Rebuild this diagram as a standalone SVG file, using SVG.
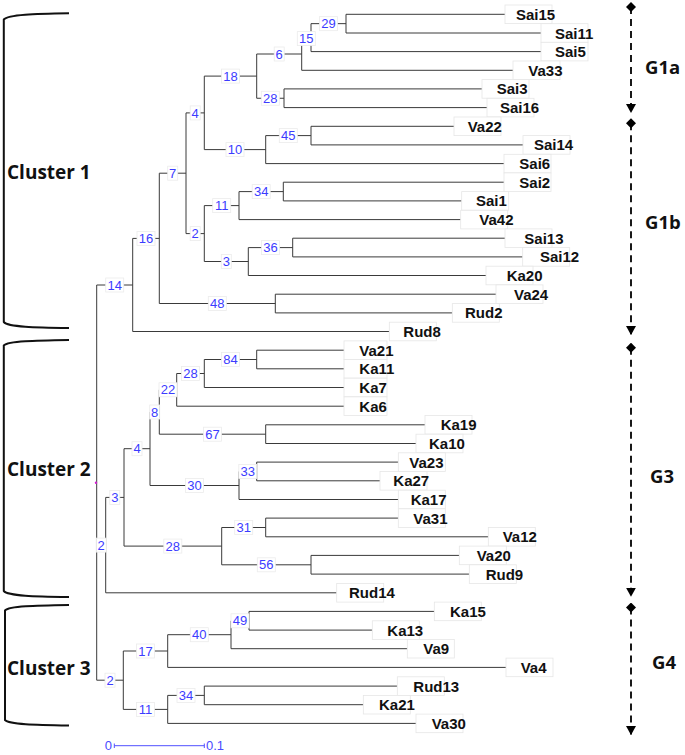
<svg xmlns="http://www.w3.org/2000/svg" width="685" height="755" viewBox="0 0 685 755">
<style>
.br{stroke:#3a3a3a;stroke-width:1;fill:none}
.nb{fill:#fff;stroke:#ececec;stroke-width:0.8}
.nt{font-family:"Liberation Sans",Arial,sans-serif;font-size:13px;fill:#3c3cff;text-anchor:middle}
.lb{fill:#fff;stroke:#e6e6e6;stroke-width:0.8}
.lt{font-family:"Liberation Sans",Arial,sans-serif;font-weight:700;font-size:15px;fill:#111}
.cl{font-family:"Open Sans","Liberation Sans",sans-serif;font-weight:700;font-size:19px;fill:#111}
.gl{font-family:"Open Sans","Liberation Sans",sans-serif;font-weight:700;font-size:18.5px;fill:#111}
.dash{stroke:#000;stroke-width:1.8;stroke-dasharray:7 5;fill:none}
.brk{stroke:#111;stroke-width:2;fill:none}
.sc{stroke:#5050ff;stroke-width:1;fill:none}
.st{font-family:"Liberation Sans",Arial,sans-serif;font-size:13px;fill:#4a4aff}
</style>
<defs>
<marker id="dia" markerUnits="userSpaceOnUse" markerWidth="10" markerHeight="10" refX="5" refY="5" orient="auto"><path d="M0,5 L5,0 L10,5 L5,10 Z" fill="#000"/></marker>
<marker id="arr" markerUnits="userSpaceOnUse" markerWidth="10" markerHeight="10" refX="9" refY="5" orient="auto"><path d="M0,0 L9,5 L0,10 Z" fill="#000"/></marker>
</defs>
<rect width="685" height="755" fill="#fff"/>

<g id="brackets">
<path class="brk" d="M69 13.3 C35 13.8 8 14.5 3.8 19.5 V322 C8 327 35 327.6 69 328"/>
<path class="brk" d="M69 340 C35 340.5 8 341 3.8 345.5 V591 C8 596 35 596.5 69 597"/>
<path class="brk" d="M69 605 C35 605.5 9 606 5 610.5 V720 C9 724.5 35 725 69 725.5"/>
<text class="cl" x="7" y="179">Cluster 1</text>
<text class="cl" x="7" y="476">Cluster 2</text>
<text class="cl" x="7" y="675">Cluster 3</text>
</g>

<g id="groups">
<path class="dash" d="M631 7 V113" marker-start="url(#dia)" marker-end="url(#arr)"/>
<path class="dash" d="M631 123.3 V335" marker-start="url(#dia)" marker-end="url(#arr)"/>
<path class="dash" d="M631 347.7 V596.7" marker-start="url(#dia)" marker-end="url(#arr)"/>
<path class="dash" d="M631 607.5 V735" marker-start="url(#dia)" marker-end="url(#arr)"/>
<text class="gl" x="645" y="74">G1a</text>
<text class="gl" x="645" y="229">G1b</text>
<text class="gl" x="650" y="482.7">G3</text>
<text class="gl" x="652" y="669.3">G4</text>
</g>

<g id="connectors">
<path class="br" d="M346 14.3 V33 M311 23.65 V51.6 M301.7 37.6 V70.3 M284 88.9 V107.6 M256.7 54 V98.25 M311 126.3 V144.9 M265.7 135.6 V163.6 M204.3 76.1 V149.6 M283.3 182.2 V200.9 M239 191.6 V219.6 M292.7 238.2 V256.9 M248.3 247.6 V275.5 M204.3 205.6 V261.5 M186 112.9 V233.6 M275.3 294.2 V312.9 M159.3 173.2 V303.5 M132.7 238.4 V331.5 M256.7 350.2 V368.8 M204.3 359.5 V387.5 M176.7 373.5 V406.2 M265.7 424.8 V443.5 M159.3 389.8 V434.2 M256.7 462.1 V480.8 M239 471.5 V499.5 M150 412 V485.5 M265.7 518.1 V536.8 M311 555.4 V574.1 M221.7 527.5 V564.8 M124 448.7 V546.1 M105.7 497.4 V592.8 M249 611.4 V630.1 M231 620.8 V648.7 M167.7 634.7 V667.4 M204.3 686.1 V704.7 M167.7 695.4 V723.4 M123.3 651 V709.4"/>
<path class="br" stroke="#7a7a7a" d="M96.7 285 V680.2"/>
<path class="br" d="M311 23.65 H346 M301.7 37.6 H311 M256.7 54 H301.7 M256.7 98.25 H284 M204.3 76.1 H256.7 M265.7 135.6 H311 M204.3 149.6 H265.7 M186 112.9 H204.3 M239 191.6 H283.3 M204.3 205.6 H239 M248.3 247.6 H292.7 M204.3 261.5 H248.3 M186 233.6 H204.3 M159.3 173.2 H186 M159.3 303.5 H275.3 M132.7 238.4 H159.3 M96.7 285 H132.7 M204.3 359.5 H256.7 M176.7 373.5 H204.3 M159.3 389.8 H176.7 M159.3 434.2 H265.7 M150 412 H159.3 M239 471.5 H256.7 M150 485.5 H239 M124 448.7 H150 M221.7 527.5 H265.7 M221.7 564.8 H311 M124 546.1 H221.7 M105.7 497.4 H124 M96.7 545.1 H105.7 M231 620.8 H249 M167.7 634.7 H231 M123.3 651 H167.7 M167.7 695.4 H204.3 M123.3 709.4 H167.7 M96.7 680.2 H123.3"/>
<path class="br" d="M346 14.3 H505 M346 33 H541 M311 51.6 H541 M301.7 70.3 H513 M284 88.9 H482 M284 107.6 H487 M311 126.3 H454 M311 144.9 H523 M265.7 163.6 H504 M283.3 182.2 H504 M283.3 200.9 H461.7 M239 219.6 H460.7 M292.7 238.2 H505 M292.7 256.9 H522.7 M248.3 275.5 H486 M275.3 294.2 H496 M275.3 312.9 H452.3 M132.7 331.5 H389.3 M256.7 350.2 H344 M256.7 368.8 H344 M204.3 387.5 H344 M176.7 406.2 H344 M265.7 424.8 H425 M265.7 443.5 H416 M256.7 462.1 H398.3 M256.7 480.8 H380 M239 499.5 H398.3 M265.7 518.1 H398.3 M265.7 536.8 H488.3 M311 555.4 H459.3 M311 574.1 H469.3 M105.7 592.8 H336.7 M249 611.4 H434.3 M249 630.1 H372.3 M231 648.7 H407.3 M167.7 667.4 H506 M204.3 686.1 H397.3 M204.3 704.7 H363.3 M167.7 723.4 H416"/>
<circle cx="96" cy="482.7" r="1.2" fill="#d020d0"/>
</g>

<g id="leaves">
<g id="Sai15"><rect class="lb" x="505" y="5" width="47" height="18.6"/><text class="lt" x="516" y="19.8">Sai15</text></g>
<g id="Sai11"><rect class="lb" x="541" y="23.7" width="47" height="18.6"/><text class="lt" x="555" y="38.5">Sai11</text></g>
<g id="Sai5"><rect class="lb" x="541" y="42.3" width="47" height="18.6"/><text class="lt" x="555" y="57.1">Sai5</text></g>
<g id="Va33"><rect class="lb" x="513" y="61" width="47" height="18.6"/><text class="lt" x="528.3" y="75.8">Va33</text></g>
<g id="Sai3"><rect class="lb" x="482" y="79.6" width="47" height="18.6"/><text class="lt" x="496.7" y="94.4">Sai3</text></g>
<g id="Sai16"><rect class="lb" x="487" y="98.3" width="47" height="18.6"/><text class="lt" x="500" y="113.1">Sai16</text></g>
<g id="Va22"><rect class="lb" x="454" y="117" width="47" height="18.6"/><text class="lt" x="467.7" y="131.8">Va22</text></g>
<g id="Sai14"><rect class="lb" x="523" y="135.6" width="47" height="18.6"/><text class="lt" x="534" y="150.4">Sai14</text></g>
<g id="Sai6"><rect class="lb" x="504" y="154.3" width="47" height="18.6"/><text class="lt" x="519.3" y="169.1">Sai6</text></g>
<g id="Sai2"><rect class="lb" x="504" y="172.9" width="47" height="18.6"/><text class="lt" x="519.3" y="187.7">Sai2</text></g>
<g id="Sai1"><rect class="lb" x="461.7" y="191.6" width="47" height="18.6"/><text class="lt" x="476" y="206.4">Sai1</text></g>
<g id="Va42"><rect class="lb" x="460.7" y="210.3" width="47" height="18.6"/><text class="lt" x="479.3" y="225.1">Va42</text></g>
<g id="Sai13"><rect class="lb" x="505" y="228.9" width="47" height="18.6"/><text class="lt" x="524.3" y="243.7">Sai13</text></g>
<g id="Sai12"><rect class="lb" x="522.7" y="247.6" width="47" height="18.6"/><text class="lt" x="540" y="262.4">Sai12</text></g>
<g id="Ka20"><rect class="lb" x="486" y="266.2" width="47" height="18.6"/><text class="lt" x="506.7" y="281">Ka20</text></g>
<g id="Va24"><rect class="lb" x="496" y="284.9" width="47" height="18.6"/><text class="lt" x="514" y="299.7">Va24</text></g>
<g id="Rud2"><rect class="lb" x="452.3" y="303.6" width="47" height="18.6"/><text class="lt" x="465" y="318.4">Rud2</text></g>
<g id="Rud8"><rect class="lb" x="389.3" y="322.2" width="47" height="18.6"/><text class="lt" x="403.3" y="337">Rud8</text></g>
<g id="Va21"><rect class="lb" x="344" y="340.9" width="43" height="18.6"/><text class="lt" x="359.3" y="355.7">Va21</text></g>
<g id="Ka11"><rect class="lb" x="344" y="359.5" width="43" height="18.6"/><text class="lt" x="359.3" y="374.3">Ka11</text></g>
<g id="Ka7"><rect class="lb" x="344" y="378.2" width="43" height="18.6"/><text class="lt" x="359.3" y="393">Ka7</text></g>
<g id="Ka6"><rect class="lb" x="344" y="396.9" width="43" height="18.6"/><text class="lt" x="359.3" y="411.7">Ka6</text></g>
<g id="Ka19"><rect class="lb" x="425" y="415.5" width="47" height="18.6"/><text class="lt" x="440.7" y="430.3">Ka19</text></g>
<g id="Ka10"><rect class="lb" x="416" y="434.2" width="47" height="18.6"/><text class="lt" x="429" y="449">Ka10</text></g>
<g id="Va23"><rect class="lb" x="398.3" y="452.8" width="47" height="18.6"/><text class="lt" x="409.3" y="467.6">Va23</text></g>
<g id="Ka27"><rect class="lb" x="380" y="471.5" width="47" height="18.6"/><text class="lt" x="393.3" y="486.3">Ka27</text></g>
<g id="Ka17"><rect class="lb" x="398.3" y="490.2" width="47" height="18.6"/><text class="lt" x="410.7" y="505">Ka17</text></g>
<g id="Va31"><rect class="lb" x="398.3" y="508.8" width="47" height="18.6"/><text class="lt" x="413.3" y="523.6">Va31</text></g>
<g id="Va12"><rect class="lb" x="488.3" y="527.5" width="47" height="18.6"/><text class="lt" x="502.7" y="542.3">Va12</text></g>
<g id="Va20"><rect class="lb" x="459.3" y="546.1" width="47" height="18.6"/><text class="lt" x="476.7" y="560.9">Va20</text></g>
<g id="Rud9"><rect class="lb" x="469.3" y="564.8" width="47" height="18.6"/><text class="lt" x="485.7" y="579.6">Rud9</text></g>
<g id="Rud14"><rect class="lb" x="336.7" y="583.5" width="47" height="18.6"/><text class="lt" x="349" y="598.3">Rud14</text></g>
<g id="Ka15"><rect class="lb" x="434.3" y="602.1" width="47" height="18.6"/><text class="lt" x="450" y="616.9">Ka15</text></g>
<g id="Ka13"><rect class="lb" x="372.3" y="620.8" width="47" height="18.6"/><text class="lt" x="387.3" y="635.6">Ka13</text></g>
<g id="Va9"><rect class="lb" x="407.3" y="639.4" width="47" height="18.6"/><text class="lt" x="423.3" y="654.2">Va9</text></g>
<g id="Va4"><rect class="lb" x="506" y="658.1" width="47" height="18.6"/><text class="lt" x="520.7" y="672.9">Va4</text></g>
<g id="Rud13"><rect class="lb" x="397.3" y="676.8" width="47" height="18.6"/><text class="lt" x="413.3" y="691.6">Rud13</text></g>
<g id="Ka21"><rect class="lb" x="363.3" y="695.4" width="47" height="18.6"/><text class="lt" x="379" y="710.2">Ka21</text></g>
<g id="Va30"><rect class="lb" x="416" y="714.1" width="47" height="18.6"/><text class="lt" x="431.7" y="728.9">Va30</text></g>
</g>

<g id="nodes">
<g id="n29"><rect class="nb" x="319.5" y="16.65" width="18" height="14"/><text class="nt" x="328.5" y="28.3">29</text></g>
<g id="n15"><rect class="nb" x="297.3" y="31.6" width="18" height="14"/><text class="nt" x="306.3" y="43.2">15</text></g>
<g id="n6"><rect class="nb" x="274.2" y="47" width="10" height="14"/><text class="nt" x="279.2" y="58.6">6</text></g>
<g id="n28a"><rect class="nb" x="261.3" y="91.25" width="18" height="14"/><text class="nt" x="270.3" y="102.9">28</text></g>
<g id="n18"><rect class="nb" x="221.5" y="69.1" width="18" height="14"/><text class="nt" x="230.5" y="80.7">18</text></g>
<g id="n45"><rect class="nb" x="279.3" y="128.6" width="18" height="14"/><text class="nt" x="288.3" y="140.2">45</text></g>
<g id="n10"><rect class="nb" x="226" y="142.6" width="18" height="14"/><text class="nt" x="235" y="154.2">10</text></g>
<g id="n4a"><rect class="nb" x="190.2" y="105.9" width="10" height="14"/><text class="nt" x="195.2" y="117.5">4</text></g>
<g id="n34a"><rect class="nb" x="252.2" y="184.6" width="18" height="14"/><text class="nt" x="261.2" y="196.2">34</text></g>
<g id="n11a"><rect class="nb" x="212.7" y="198.6" width="18" height="14"/><text class="nt" x="221.7" y="210.2">11</text></g>
<g id="n36"><rect class="nb" x="261.5" y="240.6" width="18" height="14"/><text class="nt" x="270.5" y="252.2">36</text></g>
<g id="n3a"><rect class="nb" x="221.3" y="254.5" width="10" height="14"/><text class="nt" x="226.3" y="266.1">3</text></g>
<g id="n2a"><rect class="nb" x="190.2" y="226.6" width="10" height="14"/><text class="nt" x="195.2" y="238.2">2</text></g>
<g id="n7"><rect class="nb" x="167.7" y="166.2" width="10" height="14"/><text class="nt" x="172.7" y="177.8">7</text></g>
<g id="n48"><rect class="nb" x="208.3" y="296.5" width="18" height="14"/><text class="nt" x="217.3" y="308.1">48</text></g>
<g id="n16"><rect class="nb" x="137" y="231.4" width="18" height="14"/><text class="nt" x="146" y="243">16</text></g>
<g id="n14"><rect class="nb" x="105.7" y="278" width="18" height="14"/><text class="nt" x="114.7" y="289.6">14</text></g>
<g id="n84"><rect class="nb" x="221.5" y="352.5" width="18" height="14"/><text class="nt" x="230.5" y="364.1">84</text></g>
<g id="n28b"><rect class="nb" x="181.5" y="366.5" width="18" height="14"/><text class="nt" x="190.5" y="378.1">28</text></g>
<g id="n22"><rect class="nb" x="159" y="382.8" width="18" height="14"/><text class="nt" x="168" y="394.4">22</text></g>
<g id="n67"><rect class="nb" x="203.5" y="427.2" width="18" height="14"/><text class="nt" x="212.5" y="438.8">67</text></g>
<g id="n8"><rect class="nb" x="149.7" y="405" width="10" height="14"/><text class="nt" x="154.7" y="416.6">8</text></g>
<g id="n33"><rect class="nb" x="238.8" y="464.5" width="18" height="14"/><text class="nt" x="247.8" y="476.1">33</text></g>
<g id="n30"><rect class="nb" x="185.5" y="478.5" width="18" height="14"/><text class="nt" x="194.5" y="490.1">30</text></g>
<g id="n4b"><rect class="nb" x="132" y="441.7" width="10" height="14"/><text class="nt" x="137" y="453.3">4</text></g>
<g id="n31"><rect class="nb" x="234.7" y="520.5" width="18" height="14"/><text class="nt" x="243.7" y="532.1">31</text></g>
<g id="n56"><rect class="nb" x="257.3" y="557.8" width="18" height="14"/><text class="nt" x="266.3" y="569.4">56</text></g>
<g id="n28c"><rect class="nb" x="163.8" y="539.1" width="18" height="14"/><text class="nt" x="172.8" y="550.7">28</text></g>
<g id="n3b"><rect class="nb" x="109.8" y="490.4" width="10" height="14"/><text class="nt" x="114.8" y="502">3</text></g>
<g id="n2b"><rect class="nb" x="96.2" y="538.1" width="10" height="14"/><text class="nt" x="101.2" y="549.7">2</text></g>
<g id="n49"><rect class="nb" x="231" y="613.8" width="18" height="14"/><text class="nt" x="240" y="625.4">49</text></g>
<g id="n40"><rect class="nb" x="190.3" y="627.7" width="18" height="14"/><text class="nt" x="199.3" y="639.3">40</text></g>
<g id="n17"><rect class="nb" x="136.5" y="644" width="18" height="14"/><text class="nt" x="145.5" y="655.6">17</text></g>
<g id="n34c"><rect class="nb" x="177" y="688.4" width="18" height="14"/><text class="nt" x="186" y="700">34</text></g>
<g id="n11c"><rect class="nb" x="136.5" y="702.4" width="18" height="14"/><text class="nt" x="145.5" y="714">11</text></g>
<g id="n2c"><rect class="nb" x="105" y="673.2" width="10" height="14"/><text class="nt" x="110" y="684.8">2</text></g>
</g>

<g id="scale">
<path class="sc" d="M114.3 745.7 H204.3 M114.3 743.5 V748 M204.3 743.5 V748"/>
<text class="st" x="112" y="750.3" text-anchor="end">0</text>
<text class="st" x="206" y="750.3">0.1</text>
</g>
</svg>
